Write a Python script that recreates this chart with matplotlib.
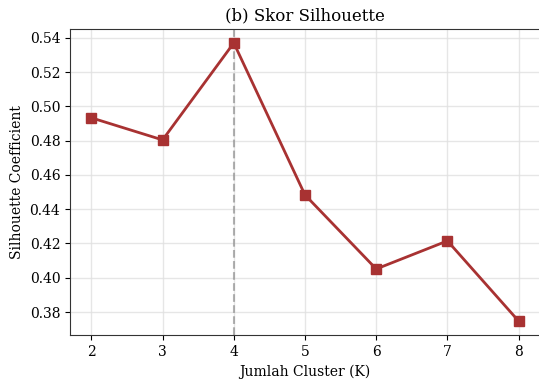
import matplotlib
matplotlib.use("Agg")
import matplotlib.pyplot as plt

# Data
k_values = [2, 3, 4, 5, 6, 7, 8]
silhouette = [0.4933, 0.4804, 0.5370, 0.4483, 0.4051, 0.4215, 0.3747]
best_k = 4

plt.rcParams['font.family'] = 'DejaVu Serif'

fig = plt.figure(figsize=(5.39, 3.81), dpi=100)
ax = fig.add_axes([70 / 539, 1 - 335 / 381, 470 / 539, 306 / 381])

ax.plot(k_values, silhouette, color='#a83232', linewidth=2, marker='s',
        markersize=7, zorder=3)
ax.axvline(best_k, color='gray', linestyle='--', linewidth=1.5, alpha=0.6)

ax.set_title("(b) Skor Silhouette", fontsize=12)
ax.set_xlabel("Jumlah Cluster (K)", fontsize=10)
ax.set_ylabel("Silhouette Coefficient", fontsize=10)
ax.set_xticks(k_values)
ax.set_xlim(1.7, 8.3)
ax.tick_params(labelsize=10)
ax.grid(True, color='#e0e0e0', linewidth=1, alpha=0.8)
ax.set_axisbelow(True)
for s in ax.spines.values():
    s.set_color('#333333')
# the reference image is cut off right at the right edge of the axes
ax.spines['right'].set_visible(False)

fig.savefig("out.png", dpi=100)
